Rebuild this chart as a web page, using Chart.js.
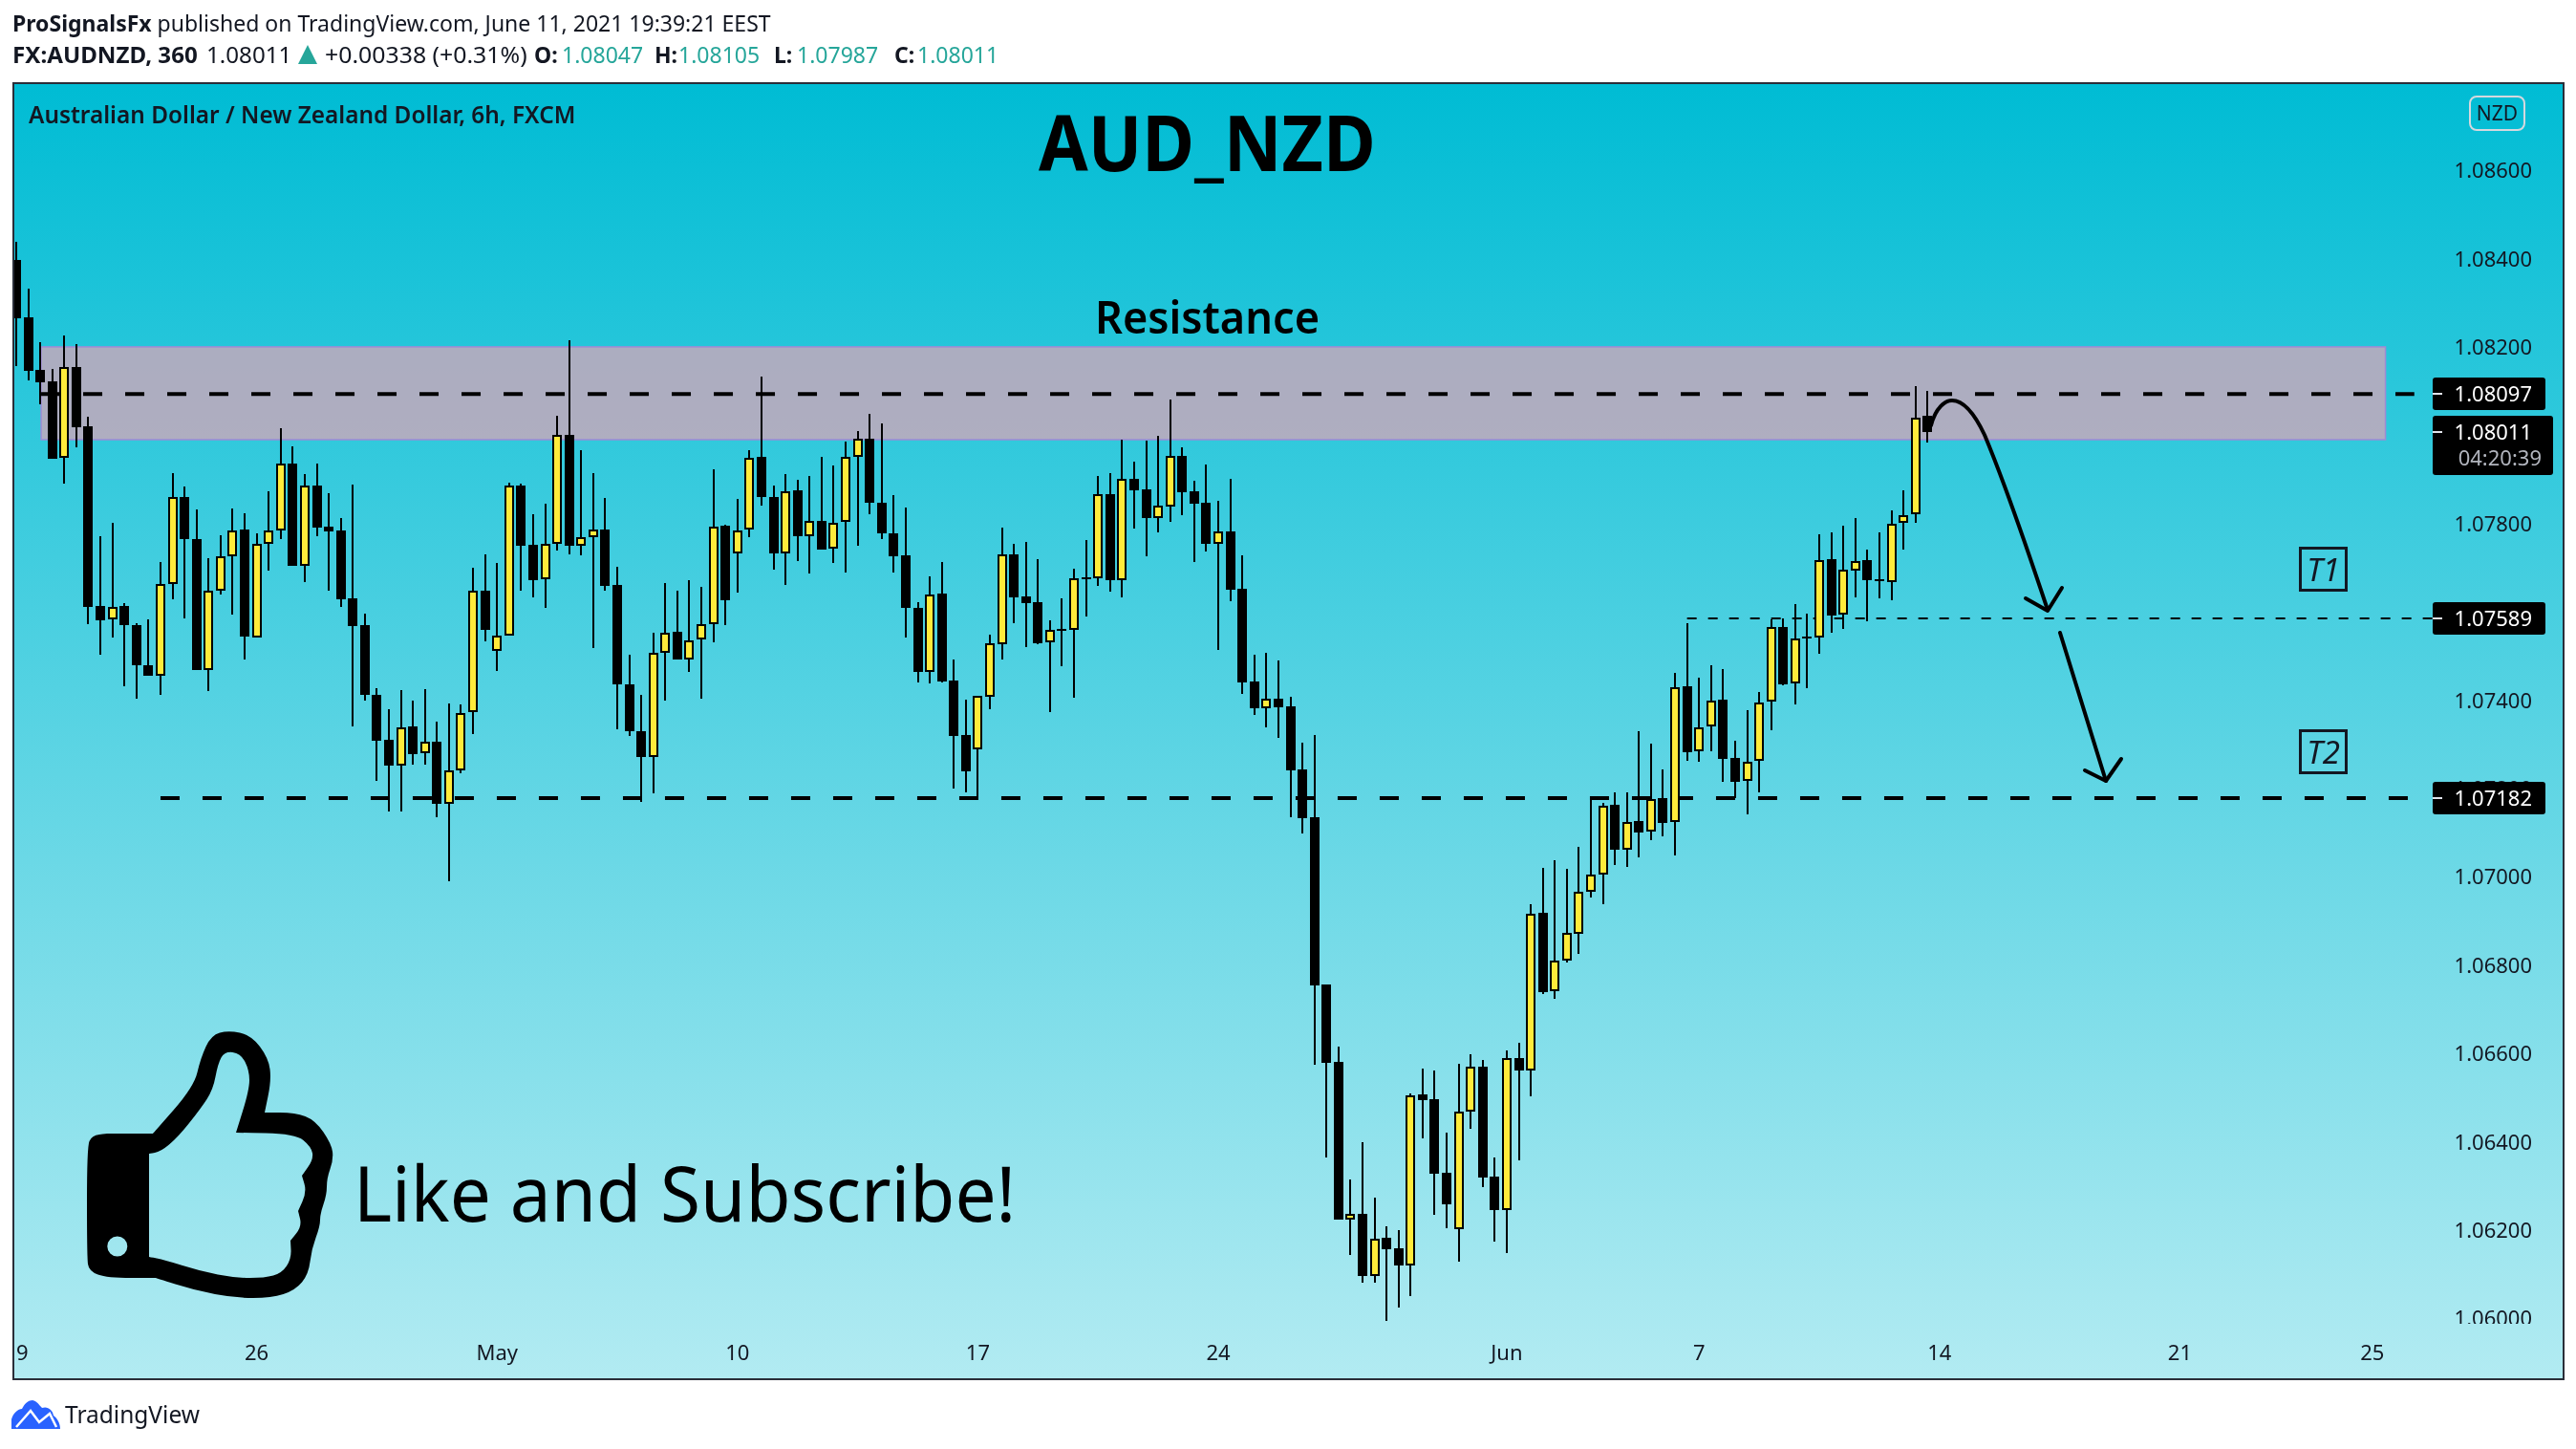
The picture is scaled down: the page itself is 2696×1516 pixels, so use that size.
<!DOCTYPE html>
<html>
<head>
<meta charset="utf-8">
<title>AUD_NZD</title>
<script src="https://cdn.jsdelivr.net/npm/chart.js@4"></script>
<style>
    html, body { margin: 0; padding: 0; background: #fff; }
    #page { position: relative; width: 2696px; height: 1516px; overflow: hidden; font-family: "Noto Sans", sans-serif; color: #131722; }
    canvas { position: absolute; left: 0; top: 0; }
    svg { position: absolute; left: 0; top: 0; }
    .t { position: absolute; white-space: nowrap; line-height: 1; transform-origin: left center; }
    .b { font-weight: 700; }
    .teal { color: #26a69a; }
    .hdr { font-size: 23px; }
    .box { position: absolute; border: 3px solid #131722; width: 45px; height: 41px; text-align: center; line-height: 41px; font-size: 33px; font-style: italic; }
    #nzd { position: absolute; left: 2584px; top: 100px; width: 55px; height: 33px; border: 2px solid #d5d8de; border-radius: 8px; text-align: center; line-height: 33px; font-size: 21px; }
</style>
</head>
<body>
<div id="page">
    <canvas id="chart" width="2696" height="1516"></canvas>

    <!-- drawings on top of the chart -->
    <svg width="2696" height="1516" viewBox="0 0 2696 1516">
        <path id="thumb" fill="#000" fill-rule="evenodd"></path>
        <g fill="none" stroke="#000" stroke-width="4" stroke-linejoin="round" stroke-linecap="round">
            <path d="M2021 445 C2026 426 2036 419 2043 419 C2056 419 2068 436 2077 455 C2098 505 2122 575 2143 638"></path>
            <path d="M2120 626 L2143 639 L2158 615"></path>
            <path d="M2156 662 L2204 817"></path>
            <path d="M2182 806 L2204 817 L2220 794"></path>
        </g>
        <path d="M12 1495 L12 1485 C14 1478 19 1474 23 1474 C26 1468 30 1465 34 1465 C39 1466 41 1470 44 1473 C50 1471 55 1475 56 1481 C60 1484 63 1489 63 1495 Z" fill="#2962ff"></path>
        <path d="M17 1493 L32 1476 L41 1488 L52 1479 L59 1493" fill="none" stroke="#fff" stroke-width="2.5"></path>
    </svg>

    <!-- header -->
    <div class="t hdr" style="left:13px;top:13px"><span class="b">ProSignalsFx</span> published on TradingView.com, June 11, 2021 19:39:21 EEST</div>
    <div class="t hdr b" style="left:13px;top:46px;transform:scaleX(1.05)">FX:AUDNZD, 360</div>
    <div class="t hdr" style="left:216px;top:46px;transform:scaleX(1.05)">1.08011</div>
    <svg width="20" height="20" style="left:312px;top:47px"><path d="M10 0 L20 20 L0 20 Z" fill="#26a69a"></path></svg>
    <div class="t hdr" style="left:340px;top:46px;transform:scaleX(1.08)">+0.00338 (+0.31%)</div>
    <div class="t hdr b" style="left:559px;top:46px">O:</div>
    <div class="t hdr teal" style="left:588px;top:46px">1.08047</div>
    <div class="t hdr b" style="left:685px;top:46px">H:</div>
    <div class="t hdr teal" style="left:710px;top:46px">1.08105</div>
    <div class="t hdr b" style="left:810px;top:46px">L:</div>
    <div class="t hdr teal" style="left:834px;top:46px">1.07987</div>
    <div class="t hdr b" style="left:936px;top:46px">C:</div>
    <div class="t hdr teal" style="left:960px;top:46px">1.08011</div>

    <!-- texts inside the pane -->
    <div class="t" style="left:30px;top:107px;font-size:25px;font-weight:600;transform:scaleX(.975)">Australian Dollar / New Zealand Dollar, 6h, FXCM</div>
    <div class="t b" style="left:1087px;top:108px;font-size:80px;color:#000;transform:scaleX(.935)">AUD_NZD</div>
    <div class="t" style="left:1146px;top:308px;font-size:46px;font-weight:600;color:#000;transform:scaleX(.98)">Resistance</div>
    <div class="t" style="left:370px;top:1207px;font-size:80px;color:#000;transform:scaleX(.957)">Like and Subscribe!</div>
    <div class="box" style="left:2406px;top:572px">T1</div>
    <div class="box" style="left:2406px;top:763px">T2</div>
    <div id="nzd">NZD</div>
    <div class="t" style="left:68px;top:1468px;font-size:24.5px">TradingView</div>
</div>

<script>
    // candles, 6h bars, first one is 19 Apr
    const opens = [
        1.08401,1.08271,1.08152,1.08126,1.07953,1.08159,1.08024,1.07617,1.07586,1.07617,
        1.07573,1.07484,1.07460,1.07668,1.07863,1.07768,1.07473,1.07651,1.07729,1.07790,
        1.07545,1.07757,1.07789,1.07940,1.07709,1.07890,1.07797,1.07788,1.07635,1.07573,
        1.07417,1.07314,1.07255,1.07344,1.07283,1.07311,1.07170,1.07246,1.07377,1.07653,
        1.07515,1.07551,1.07891,1.07755,1.07677,1.07759,1.08004,1.07753,1.07774,1.07790,
        1.07664,1.07439,1.07333,1.07276,1.07512,1.07558,1.07497,1.07541,1.07577,1.07799,
        1.07737,1.07790,1.07954,1.07863,1.07737,1.07879,1.07776,1.07811,1.07747,1.07807,
        1.07956,1.07995,1.07852,1.07781,1.07731,1.07614,1.07469,1.07645,1.07449,1.07325,
        1.07293,1.07412,1.07531,1.07734,1.07639,1.07626,1.07534,1.07565,1.07564,1.07682,
        1.07681,1.07871,1.07676,1.07905,1.07881,1.07817,1.07843,1.07957,1.07877,1.07851,
        1.07759,1.07786,1.07656,1.07446,1.07386,1.07407,1.07390,1.07247,1.07139,1.06760,
        1.06585,1.06228,1.06241,1.06101,1.06187,1.06163,1.06124,1.06511,1.06500,1.06334,
        1.06205,1.06473,1.06574,1.06325,1.06249,1.06594,1.06565,1.06923,1.06744,1.06815,
        1.06875,1.06971,1.07010,1.07167,1.07066,1.07130,1.07106,1.07182,1.07128,1.07436,
        1.07288,1.07344,1.07405,1.07273,1.07221,1.07266,1.07400,1.07570,1.07441,1.07547,
        1.07545,1.07723,1.07597,1.07698,1.07721,1.07677,1.07672,1.07805,1.07826,1.08047
    ];
    const highs = [
        1.08442,1.08336,1.08215,1.08154,1.08230,1.08210,1.08046,1.07775,1.07806,1.07624,
        1.07579,1.07587,1.07717,1.07918,1.07888,1.07836,1.07726,1.07778,1.07838,1.07827,
        1.07782,1.07877,1.08020,1.07979,1.07916,1.07940,1.07873,1.07816,1.07892,1.07600,
        1.07431,1.07384,1.07427,1.07403,1.07429,1.07355,1.07397,1.07394,1.07704,1.07734,
        1.07715,1.07897,1.07894,1.07825,1.07849,1.08048,1.08219,1.07971,1.07918,1.07862,
        1.07706,1.07507,1.07416,1.07557,1.07669,1.07652,1.07676,1.07661,1.07927,1.07801,
        1.07860,1.07971,1.08137,1.07890,1.07916,1.07903,1.07912,1.07955,1.07936,1.07990,
        1.08013,1.08052,1.08031,1.07868,1.07840,1.07626,1.07685,1.07717,1.07496,1.07405,
        1.07414,1.07552,1.07795,1.07758,1.07762,1.07723,1.07585,1.07635,1.07702,1.07767,
        1.07912,1.07918,1.07994,1.07944,1.07992,1.08003,1.08085,1.07977,1.07901,1.07938,
        1.07855,1.07905,1.07732,1.07507,1.07511,1.07494,1.07412,1.07308,1.07325,1.06760,
        1.06620,1.06319,1.06403,1.06278,1.06213,1.06204,1.06513,1.06570,1.06565,1.06425,
        1.06581,1.06602,1.06589,1.06368,1.06611,1.06628,1.06942,1.07024,1.07042,1.07022,
        1.07072,1.07182,1.07171,1.07195,1.07195,1.07334,1.07306,1.07247,1.07466,1.07578,
        1.07455,1.07483,1.07474,1.07312,1.07381,1.07423,1.07587,1.07589,1.07622,1.07600,
        1.07780,1.07784,1.07799,1.07816,1.07745,1.07784,1.07834,1.07879,1.08115,1.08105
    ];
    const lows = [
        1.08161,1.08128,1.08074,1.07951,1.07894,1.07976,1.07577,1.07506,1.07545,1.07436,
        1.07408,1.07459,1.07417,1.07633,1.07590,1.07472,1.07425,1.07644,1.07598,1.07497,
        1.07545,1.07698,1.07769,1.07708,1.07672,1.07776,1.07652,1.07616,1.07345,1.07404,
        1.07222,1.07153,1.07153,1.07257,1.07259,1.07140,1.06995,1.07239,1.07328,1.07538,
        1.07471,1.07551,1.07652,1.07637,1.07613,1.07742,1.07735,1.07733,1.07523,1.07652,
        1.07337,1.07322,1.07174,1.07194,1.07404,1.07497,1.07468,1.07408,1.07534,1.07574,
        1.07648,1.07774,1.07845,1.07700,1.07665,1.07720,1.07690,1.07746,1.07714,1.07694,
        1.07753,1.07826,1.07768,1.07694,1.07546,1.07445,1.07443,1.07444,1.07204,1.07195,
        1.07184,1.07384,1.07496,1.07578,1.07524,1.07531,1.07377,1.07481,1.07410,1.07594,
        1.07663,1.07650,1.07637,1.07793,1.07730,1.07784,1.07808,1.07823,1.07717,1.07741,
        1.07518,1.07628,1.07418,1.07371,1.07342,1.07319,1.07139,1.07102,1.06578,1.06368,
        1.06228,1.06148,1.06085,1.06085,1.05998,1.06029,1.06055,1.06412,1.06239,1.06208,
        1.06133,1.06433,1.06301,1.06178,1.06152,1.06362,1.06507,1.06739,1.06728,1.06810,
        1.06829,1.06957,1.06942,1.07031,1.07026,1.07048,1.07087,1.07096,1.07052,1.07267,
        1.07265,1.07288,1.07219,1.07182,1.07145,1.07195,1.07336,1.07438,1.07394,1.07431,
        1.07509,1.07557,1.07566,1.07637,1.07583,1.07635,1.07631,1.07744,1.07806,1.07987
    ];
    const closes = [
        1.08269,1.08150,1.08124,1.07951,1.08159,1.08022,1.07616,1.07585,1.07616,1.07573,
        1.07484,1.07459,1.07668,1.07863,1.07768,1.07472,1.07651,1.07729,1.07789,1.07548,
        1.07757,1.07789,1.07940,1.07708,1.07890,1.07795,1.07786,1.07632,1.07572,1.07416,
        1.07313,1.07255,1.07342,1.07282,1.07311,1.07170,1.07246,1.07375,1.07653,1.07564,
        1.07550,1.07891,1.07754,1.07676,1.07758,1.08004,1.07753,1.07774,1.07790,1.07663,
        1.07439,1.07333,1.07276,1.07512,1.07557,1.07497,1.07540,1.07577,1.07797,1.07631,
        1.07789,1.07953,1.07863,1.07736,1.07878,1.07776,1.07811,1.07746,1.07806,1.07956,
        1.07995,1.07851,1.07781,1.07730,1.07613,1.07468,1.07644,1.07446,1.07323,1.07243,
        1.07413,1.07532,1.07734,1.07637,1.07624,1.07533,1.07563,1.07561,1.07679,1.07678,
        1.07870,1.07676,1.07905,1.07879,1.07816,1.07844,1.07957,1.07875,1.07849,1.07758,
        1.07786,1.07654,1.07444,1.07386,1.07407,1.07388,1.07245,1.07137,1.06758,1.06583,
        1.06228,1.06241,1.06100,1.06185,1.06161,1.06124,1.06510,1.06498,1.06332,1.06262,
        1.06473,1.06573,1.06323,1.06249,1.06594,1.06565,1.06921,1.06743,1.06815,1.06877,
        1.06971,1.07010,1.07166,1.07065,1.07129,1.07104,1.07181,1.07126,1.07434,1.07286,
        1.07343,1.07404,1.07271,1.07219,1.07265,1.07399,1.07569,1.07440,1.07544,1.07543,
        1.07722,1.07596,1.07699,1.07720,1.07676,1.07673,1.07804,1.07824,1.08044,1.08011
    ];

    // price and time axis
    const priceTicks = [1.086, 1.084, 1.082, 1.08, 1.078, 1.076, 1.074, 1.072, 1.07, 1.068, 1.066, 1.064, 1.062, 1.06];
    const timeTickBars = [0.5, 20, 40, 60, 80, 100, 124, 140, 160, 180, 196];
    const timeTickLabels = ['9', '26', 'May', '10', '17', '24', 'Jun', '7', '14', '21', '25'];

    // levels drawn on the chart
    const zonePrices = [1.07994, 1.08204];
    const zoneBars = [2.07, 197.1];
    const resistanceLine = { price: 1.08097, bars: [2.07, 199.5] };
    const target1Line = { price: 1.07589, bars: [139, 201.1] };
    const target2Line = { price: 1.07182, bars: [12, 199] };

    // price tags on the right side
    const tagPrices = [1.08097, 1.07589, 1.07182];
    const lastPrice = 1.08011;
    const countdown = '04:20:39';

    const YELLOW = '#ffeb3b';
    const BLACK = '#000000';
    const AXIS_FONT = '"Noto Sans", sans-serif';

    // pane position in the page
    const PANE = { left: 15, top: 88, right: 2682, bottom: 1442 };

    function paneGradient(ctx) {
        const g = ctx.createLinearGradient(0, PANE.top, 0, PANE.bottom);
        g.addColorStop(0, '#00bcd4');
        g.addColorStop(1, '#b2ebf2');
        return g;
    }

    function levelLine(level, dash, width) {
        return {
            type: 'line',
            label: String(level.price),
            data: level.bars.map(b => ({ x: b, y: level.price })),
            borderColor: BLACK,
            borderWidth: width,
            borderDash: dash,
            pointRadius: 0,
            fill: false,
            order: 3
        };
    }

    const panePlugin = {
        id: 'pane',
        // keep bars on whole pixels, the source picture has crisp candles
        afterDatasetsUpdate(chart) {
            chart.getSortedVisibleDatasetMetas().forEach(meta => {
                if (meta.type !== 'bar') return;
                meta.data.forEach(el => {
                    el.x = Math.round(el.x);
                    el.y = Math.round(el.y);
                    el.base = Math.round(el.base);
                });
            });
        },
        beforeDraw(chart) {
            const ctx = chart.ctx;
            ctx.save();
            ctx.fillStyle = paneGradient(ctx);
            ctx.fillRect(PANE.left, PANE.top, PANE.right - PANE.left, PANE.bottom - PANE.top);
            ctx.restore();
        },
        beforeDatasetsDraw(chart) {
            const ctx = chart.ctx;
            const xs = chart.scales.x;
            const ys = chart.scales.y;
            ctx.save();
            // time axis strip hides the bottom of the last price label
            ctx.fillStyle = paneGradient(ctx);
            ctx.fillRect(PANE.left, 1385, PANE.right - PANE.left, PANE.bottom - 1385);
            // resistance zone
            const x0 = xs.getPixelForValue(zoneBars[0]);
            const x1 = xs.getPixelForValue(zoneBars[1]);
            const y0 = ys.getPixelForValue(zonePrices[1]);
            const y1 = ys.getPixelForValue(zonePrices[0]);
            ctx.fillStyle = 'rgba(217, 164, 183, 0.75)';
            ctx.fillRect(x0, y0, x1 - x0, y1 - y0);
            ctx.strokeStyle = '#a08bd4';
            ctx.lineWidth = 1.5;
            ctx.strokeRect(x0, y0, x1 - x0, y1 - y0);
            ctx.restore();
        },
        afterDraw(chart) {
            const ctx = chart.ctx;
            const ys = chart.scales.y;
            ctx.save();
            ctx.textBaseline = 'middle';
            ctx.textAlign = 'right';
            ctx.font = '22px ' + AXIS_FONT;

            function tag(price, top, height, width) {
                const y = Math.round(ys.getPixelForValue(price));
                ctx.fillStyle = BLACK;
                ctx.beginPath();
                ctx.roundRect(2546, top === null ? y - 17 : top, width, height, 3);
                ctx.fill();
                ctx.fillStyle = '#e0e3eb';
                ctx.fillRect(2546, y - 1, 10, 2);
                ctx.fillStyle = '#ffffff';
                ctx.fillText(price.toFixed(5), 2650, y + 2);
            }
            tagPrices.forEach(p => tag(p, null, 34, 118));
            tag(lastPrice, 435, 62, 126);
            ctx.fillStyle = '#b2b5be';
            ctx.fillText(countdown, 2660, 481);

            // pane frame
            ctx.strokeStyle = '#2a2e39';
            ctx.lineWidth = 2;
            ctx.strokeRect(PANE.left - 1, PANE.top - 1, PANE.right - PANE.left + 2, PANE.bottom - PANE.top + 2);
            ctx.restore();
        }
    };

    const wickData = highs.map((h, i) => ({ x: i, y: [lows[i], h] }));
    const bodyData = opens.map((o, i) => ({ x: i, y: [o, closes[i]] }));
    const bodyColors = opens.map((o, i) => (closes[i] > o ? YELLOW : BLACK));

    new Chart(document.getElementById('chart'), {
        type: 'bar',
        data: {
            datasets: [
                {
                    label: 'body',
                    data: bodyData,
                    backgroundColor: bodyColors,
                    borderColor: BLACK,
                    borderWidth: 2,
                    borderSkipped: false,
                    inflateAmount: 0,
                    barThickness: 10,
                    grouped: false,
                    order: 1
                },
                {
                    label: 'wick',
                    data: wickData,
                    backgroundColor: BLACK,
                    borderWidth: 0,
                    inflateAmount: 0,
                    barThickness: 2,
                    grouped: false,
                    order: 2
                },
                levelLine(resistanceLine, [20, 24], 4),
                levelLine(target2Line, [20, 24], 4),
                levelLine(target1Line, [10, 12], 2)
            ]
        },
        options: {
            responsive: false,
            animation: false,
            devicePixelRatio: 1,
            layout: {
                padding: {
                    left: PANE.left,
                    top: PANE.top,
                    right: 2696 - PANE.right,
                    bottom: 1516 - PANE.bottom
                }
            },
            plugins: {
                legend: { display: false },
                tooltip: { enabled: false }
            },
            scales: {
                x: {
                    type: 'linear',
                    offset: false,
                    min: -0.159,
                    max: 211.84,
                    grid: { display: false, drawTicks: false },
                    border: { display: false },
                    afterFit(scale) { scale.height = 0; },
                    afterBuildTicks(scale) { scale.ticks = timeTickBars.map(v => ({ value: v })); },
                    ticks: {
                        z: 1,
                        // mirror switches off the clip to the zero height axis box
                        mirror: true,
                        autoSkip: false,
                        maxRotation: 0,
                        padding: 12,
                        color: '#131722',
                        font: { family: AXIS_FONT, size: 22 },
                        callback(value) {
                            return timeTickLabels[timeTickBars.indexOf(value)];
                        }
                    }
                },
                y: {
                    type: 'linear',
                    position: 'right',
                    min: 1.058684,
                    max: 1.087991,
                    grid: { display: false, drawTicks: false },
                    border: { display: false },
                    afterFit(scale) { scale.width = 0; },
                    afterBuildTicks(scale) { scale.ticks = priceTicks.map(v => ({ value: v })); },
                    ticks: {
                        z: -1,
                        mirror: true,
                        padding: -32,
                        color: '#131722',
                        font: { family: AXIS_FONT, size: 22 },
                        callback(value) { return value.toFixed(5); }
                    }
                }
            }
        },
        plugins: [panePlugin]
    });

    // thumb icon, smoothed through the midpoints of the outline
    function smoothPath(pts) {
        let d = '';
        const mid = (a, b) => [(a[0] + b[0]) / 2, (a[1] + b[1]) / 2];
        const start = mid(pts[pts.length - 1], pts[0]);
        d += 'M' + start[0] + ' ' + start[1];
        pts.forEach((p, i) => {
            const m = mid(p, pts[(i + 1) % pts.length]);
            d += ' Q' + p[0] + ' ' + p[1] + ' ' + m[0] + ' ' + m[1];
        });
        return d + ' Z';
    }
    const thumbOuter = [[112,1186],[112,1186],[160,1186],[160,1186],[203,1137],[210,1107],[221,1083],[239,1078],[263,1083],[281,1107],[284,1130],[277,1164],[277,1164],[309,1164],[330,1172],[347,1197],[349,1213],[342,1233],[342,1250],[335,1270],[335,1283],[326,1307],[323,1333],[309,1350],[284,1358],[246,1358],[204,1350],[163,1337],[163,1337],[112,1337],[93,1330],[91,1315],[91,1200],[96,1188]];
    const thumbInner = [[156,1207],[156,1207],[168,1205],[186,1190],[210,1160],[223,1140],[228,1113],[235,1100],[252,1102],[261,1120],[261,1140],[247,1185],[247,1185],[309,1186],[326,1200],[328,1213],[316,1230],[316,1230],[321,1247],[312,1267],[312,1267],[316,1283],[304,1298],[304,1298],[305,1317],[295,1332],[277,1337],[246,1337],[210,1330],[172,1318],[156,1315],[156,1315]];
    const thumbHole = 'M112.3 1304 a10.5 10.5 0 1 0 21 0 a10.5 10.5 0 1 0 -21 0 Z';
    document.getElementById('thumb').setAttribute('d', smoothPath(thumbOuter) + ' ' + smoothPath(thumbInner) + ' ' + thumbHole);
</script>
</body>
</html>
